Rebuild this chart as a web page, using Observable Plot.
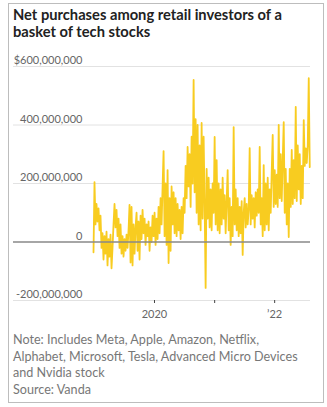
<!DOCTYPE html>
<html>
<head>
<meta charset="utf-8">
<script src="https://cdn.jsdelivr.net/npm/d3@7"></script>
<script src="https://cdn.jsdelivr.net/npm/@observablehq/plot@0.6"></script>
<style>
  body { margin: 0; background: #fff; width: 327px; height: 407px; position: relative; overflow: hidden; }
  #frame { position: absolute; left: 8px; top: 3px; width: 314px; height: 398px; border: 1px solid #bdbdbd; }
  #title { position: absolute; left: 13px; top: 6px; font-family: Lato, sans-serif; font-weight: 700; font-size: 14.7px; line-height: 17px; color: #222; white-space: nowrap; }
  #chart { position: absolute; left: 0; top: 50px; }
  #note { position: absolute; left: 13px; top: 332px; font-family: Lato, sans-serif; font-size: 12.6px; line-height: 16.5px; color: #777; white-space: nowrap; }
</style>
</head>
<body>
<div id="frame"></div>
<div id="title">Net purchases among retail investors of a<br>basket of tech stocks</div>
<div id="chart"></div>
<div id="note">Note: Includes Meta, Apple, Amazon, Netflix,<br>Alphabet, Microsoft, Tesla, Advanced Micro Devices<br>and Nvidia stock<br>Source: Vanda</div>
<script>
// Net purchases, millions of dollars, one reading about every 6 days
const startDate = "2018-12-26";
const stepDays = 6.09;
const netPurchasesM = [
  -35, 205, 60, 130, 70, 115, 40, 90, -20, 30, -60, 20, -40, 35, -80, 10, -50, 25, -90, -20,
  60, 130, 50, 110, 20, 80, -20, 60, -40, 20, -50, 10, -30, 25, -20, 40, 127, -70, 120, -80,
  60, -40, 50, 100, -30, 70, -60, 90, 10, 110, 30, 80, -10, 60, 20, 70, -30, 50, 0, 90,
  20, 100, -10, 80, 10, 120, 30, 150, 60, 190, 311, 20, 200, -10, 246, -72, 150, -30, 190, 60,
  170, 30, 150, 20, 130, 40, 110, 10, 120, 30, 150, 100, 260, 150, 325, 190, 300, 120, 360, 200,
  554, 170, 420, 100, 400, 60, 330, 40, 407, 80, 360, 130, -157, 250, 80, 220, 50, 180, 40, 200,
  100, 359, 60, 280, 40, 200, 30, 180, 60, 220, 80, 160, 30, 140, 246, 40, 150, -10, 120, 20,
  393, 60, 180, 40, 150, 20, 120, 30, 140, -44, 100, 150, 50, 130, 60, 110, 321, 60, 160, 80,
  150, 50, 170, 90, 180, 100, 325, 60, 150, 20, 263, 40, 200, 60, 220, 40, 180, 100, 240, 366,
  120, 246, 130, 230, 120, 400, 150, 300, 140, 280, 410, 100, 250, 60, 200, 17, 250, 120, 315, 130,
  280, 150, 462, 140, 330, 180, 300, 130, 260, 150, 417, 260, 320, 270, 330, 560, 256
];
const domainEnd = "2022-08-07";

const yTicks = [-200e6, 0, 200e6, 400e6, 600e6];
const yTickLabels = ["-200,000,000", "0", "200,000,000", "400,000,000", "$600,000,000"];
const gridValues = [-200e6, 200e6, 400e6, 600e6];
const xTickYears = [2020, 2021, 2022];
const xTickLabels = ["2020", "", "\u201922"];

const t0 = new Date(startDate + "T00:00:00Z");
const data = netPurchasesM.map((v, i) => ({
  date: new Date(+t0 + i * stepDays * 864e5),
  value: v * 1e6
}));
const xTicks = xTickYears.map(y => new Date(Date.UTC(y, 0, 1)));

const chart = Plot.plot({
  width: 327,
  height: 280,
  marginLeft: 93,
  marginRight: 17,
  marginTop: 16,
  marginBottom: 30,
  style: { fontFamily: "Lato, sans-serif", fontSize: "11px", color: "#666", background: "transparent", overflow: "visible" },
  x: { type: "utc", domain: [t0, new Date(domainEnd + "T00:00:00Z")] },
  y: { domain: [-200e6, 600e6] },
  marks: [
    Plot.ruleY(gridValues, { stroke: "#e2e2e2", strokeWidth: 1, insetLeft: -80 }),
    Plot.axisY({
      ticks: yTicks,
      tickFormat: d => yTickLabels[yTicks.indexOf(d)],
      tickSize: 0,
      tickPadding: 11,
      dy: -6,
      fill: "#666",
      fontSize: 11,
      label: null
    }),
    Plot.line(data, { x: "date", y: "value", stroke: "#f8cc20", strokeWidth: 1.8 }),
    Plot.ruleY([0], { stroke: "#888", strokeWidth: 1.5, insetLeft: -80 }),
    Plot.axisX({
      ticks: xTicks,
      tickFormat: d => xTickLabels[xTickYears.indexOf(d.getUTCFullYear())],
      tickSize: 3,
      tickPadding: 7,
      stroke: "#444",
      fill: "#666",
      fontSize: 11,
      label: null
    })
  ]
});
document.getElementById("chart").appendChild(chart);
</script>
</body>
</html>
